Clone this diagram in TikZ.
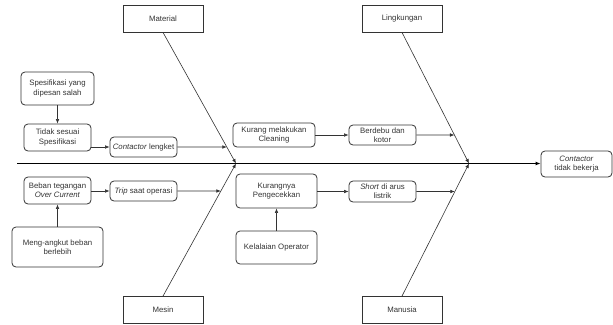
\documentclass[tikz,border=0pt]{standalone}
\usepackage{fontspec}
\setmainfont{Liberation Sans}
\usetikzlibrary{arrows.meta,intersections}
\definecolor{ink}{HTML}{333333}
\begin{document}
\begin{tikzpicture}[x=1pt,y=-1pt,
  every node/.style={font=\fontsize{7.8}{9.4}\selectfont, text=ink, align=center, inner sep=0pt},
  cat/.style={draw=ink, line width=0.8pt, minimum width=80pt, minimum height=27pt},
  cause/.style={draw=ink, line width=0.8pt, rounded corners=4pt},
  tip/.style={-{Latex[length=4.5pt,width=3.6pt]}},
  arr/.style={draw=ink, line width=0.6pt, tip},
  bone/.style={draw=ink, line width=0.6pt, tip},
  spine/.style={draw=black, line width=1pt, -{Latex[length=5pt,width=4pt]}}]
\useasboundingbox (0,0) rectangle (613,324);

% category boxes
\node[cat] (mat) at (163,18.5) {Material};
\node[cat] (ling) at (402,18.5) {Lingkungan};
\node[cat] (mes) at (163,310) {Mesin};
\node[cat] (man) at (402,310) {Manusia};

% effect
\node[cause, minimum width=71pt, minimum height=26pt] (eff) at (576.5,164) {\textit{Contactor}\\tidak bekerja};

% causes
\node[cause, minimum width=73pt, minimum height=33pt] (spes) at (57.5,88.5) {Spesifikasi yang\\dipesan salah};
\node[cause, minimum width=67pt, minimum height=27pt] (tidak) at (57.5,137.5) {Tidak sesuai\\Spesifikasi};
\node[cause, minimum width=67pt, minimum height=20pt] (cl) at (143.5,147) {\textit{Contactor} lengket};
\node[cause, minimum width=67pt, minimum height=27pt] (beban) at (57.5,190.5) {Beban tegangan\\\textit{Over Current}};
\node[cause, minimum width=67pt, minimum height=20pt] (trip) at (143.5,191) {\textit{Trip} saat operasi};
\node[cause, minimum width=91pt, minimum height=40pt] (meng) at (57.5,247) {Meng-angkut beban\\berlebih};
\node[cause, minimum width=82pt, minimum height=24pt] (kml) at (274,135) {Kurang melakukan\\Cleaning};
\node[cause, minimum width=67pt, minimum height=20pt] (berd) at (382.5,135) {Berdebu dan\\kotor};
\node[cause, minimum width=81pt, minimum height=34pt] (kpg) at (276.5,191) {Kurangnya\\Pengecekkan};
\node[cause, minimum width=67pt, minimum height=21pt] (short) at (382.5,191.5) {\textit{Short} di arus\\listrik};
\node[cause, minimum width=81pt, minimum height=33pt] (kel) at (276.5,247.5) {Kelalaian Operator};

% spine
\coordinate (tail) at (17,163.5);
\coordinate (jl) at (236,163.5);
\coordinate (jr) at (469,163.5);
\draw[spine] (tail) -- (eff.west |- tail);

% bones
\draw[bone, name path=bmat] (mat.south) -- (jl);
\draw[bone, name path=bmes] (mes.north) -- (jl);
\draw[bone, name path=bling] (ling.south) -- (jr);
\draw[bone, name path=bman] (man.north) -- (jr);

% cause chains
\draw[arr] (spes) -- (tidak);
\draw[arr] (tidak.east |- cl) -- (cl);
\draw[arr] (meng) -- (beban);
\draw[arr] (beban.east |- trip) -- (trip);
\draw[arr] (kml) -- (berd);
\draw[arr] (kel) -- (kpg);
\draw[arr] (kpg.east |- short) -- (short);

% links onto the bones
\path[name path=hcl] (cl.east) -- ++(120,0);
\draw[arr, name intersections={of=bmat and hcl}] (cl.east) -- (intersection-1);
\path[name path=htrip] (trip.east) -- ++(120,0);
\draw[arr, name intersections={of=bmes and htrip}] (trip.east) -- (intersection-1);
\path[name path=hberd] (berd.east) -- ++(120,0);
\draw[arr, name intersections={of=bling and hberd}] (berd.east) -- (intersection-1);
\path[name path=hshort] (short.east) -- ++(120,0);
\draw[arr, name intersections={of=bman and hshort}] (short.east) -- (intersection-1);
\end{tikzpicture}
\end{document}
